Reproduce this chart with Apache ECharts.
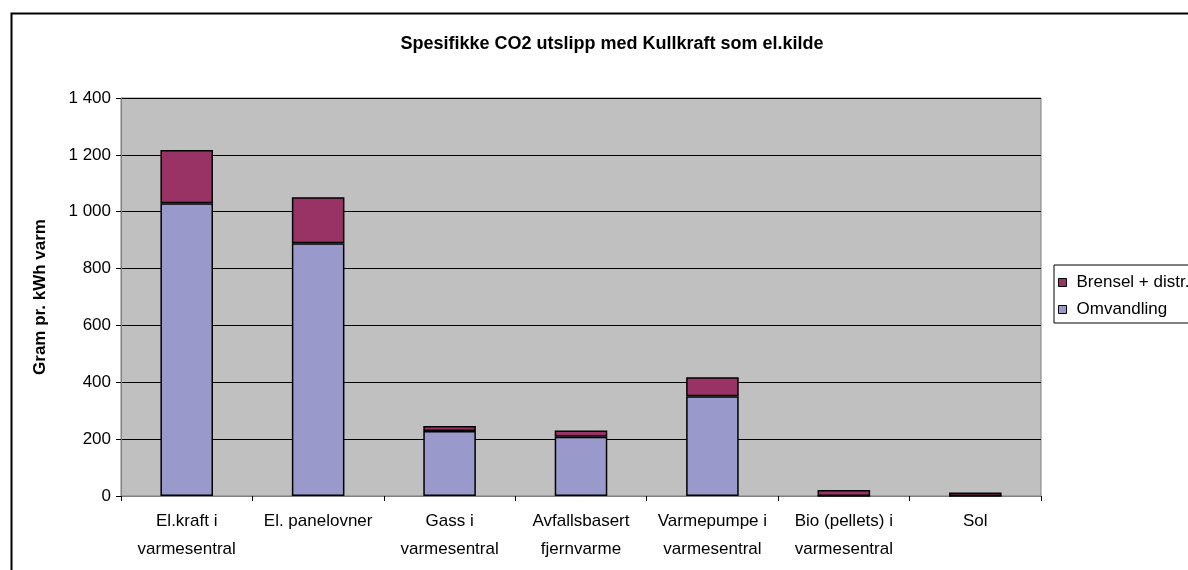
<!DOCTYPE html>
<html>
<head>
<meta charset="utf-8">
<script src="https://cdn.jsdelivr.net/npm/echarts@6/dist/echarts.min.js"></script>
<style>
  html, body { margin: 0; padding: 0; background: #fff; }
  #chart { width: 1188px; height: 570px; }
</style>
</head>
<body>
<div id="chart"></div>
<script>
// Heating options compared by specific CO2 emissions (coal power as electricity source)
const categories = [
  'El.kraft i\nvarmesentral',
  'El. panelovner',
  'Gass i\nvarmesentral',
  'Avfallsbasert\nfjernvarme',
  'Varmepumpe i\nvarmesentral',
  'Bio (pellets) i\nvarmesentral',
  'Sol'
];
const omvandling = [1030, 889, 229, 208, 351, 0, 0];
const brensel = [187, 162, 17, 22, 67, 21, 12];
const yTicks = [0, 200, 400, 600, 800, 1000, 1200, 1400];

const FONT = '"Liberation Sans", Arial, sans-serif';

// "1400" -> "1 400"
function groupThousands(v) {
  return String(v).replace(/\B(?=(\d{3})+(?!\d))/g, ' ');
}

const chart = echarts.init(document.getElementById('chart'), null, { renderer: 'canvas' });

chart.setOption({
  backgroundColor: '#ffffff',
  animation: false,
  textStyle: { fontFamily: FONT },
  title: {
    text: 'Spesifikke CO2 utslipp med Kullkraft som el.kilde',
    left: 607,
    top: 30,
    textAlign: 'center',
    textStyle: { fontFamily: FONT, fontSize: 18, fontWeight: 'bold', color: '#000' }
  },
  graphic: [
    {
      type: 'rect',
      left: 9, top: 11,
      shape: { x: 0, y: 0, width: 1300, height: 700 },
      style: { fill: 'none', stroke: '#000', lineWidth: 2 },
      silent: true,
      z: -1
    }
  ],
  legend: {
    orient: 'vertical',
    left: 1054,
    top: 265,
    data: ['Brensel + distr.', 'Omvandling'],
    icon: 'rect',
    itemWidth: 8,
    itemHeight: 8,
    itemGap: 10,
    padding: [9, 60, 5, 4],
    borderColor: '#000',
    borderWidth: 1,
    textStyle: { fontFamily: FONT, fontSize: 17, color: '#000', padding: [0, 0, 0, 5] },
    itemStyle: { borderColor: '#000', borderWidth: 1 }
  },
  grid: {
    left: 121,
    right: 147,
    top: 98,
    bottom: 74,
    show: true,
    backgroundColor: '#c0c0c0',
    borderColor: '#808080',
    borderWidth: 1
  },
  xAxis: {
    type: 'category',
    data: categories,
    axisLine: { lineStyle: { color: '#808080', width: 1 } },
    axisTick: { show: true, alignWithLabel: false, length: 5, lineStyle: { color: '#000' } },
    axisLabel: {
      interval: 0,
      margin: 11,
      lineHeight: 28,
      fontFamily: FONT,
      fontSize: 17,
      color: '#000'
    }
  },
  yAxis: {
    type: 'value',
    min: yTicks[0],
    max: yTicks[yTicks.length - 1],
    interval: yTicks[1] - yTicks[0],
    name: 'Gram pr. kWh varm',
    nameLocation: 'middle',
    nameRotate: 90,
    nameGap: 72,
    nameTextStyle: { fontFamily: FONT, fontSize: 17, fontWeight: 'bold', color: '#000' },
    axisLine: { show: true, lineStyle: { color: '#808080', width: 1 } },
    axisTick: { show: true, length: 5, lineStyle: { color: '#000' } },
    axisLabel: {
      margin: 10,
      fontFamily: FONT,
      fontSize: 17,
      color: '#000',
      formatter: groupThousands
    },
    splitLine: { show: true, lineStyle: { color: '#000', width: 1 } }
  },
  series: [
    {
      name: 'Omvandling',
      type: 'bar',
      stack: 'total',
      barWidth: '40%',
      data: omvandling,
      itemStyle: { color: '#9999cc', borderColor: '#000', borderWidth: 1.5 }
    },
    {
      name: 'Brensel + distr.',
      type: 'bar',
      stack: 'total',
      barWidth: '40%',
      data: brensel,
      itemStyle: { color: '#993366', borderColor: '#000', borderWidth: 1.5 }
    }
  ]
});
</script>
</body>
</html>
